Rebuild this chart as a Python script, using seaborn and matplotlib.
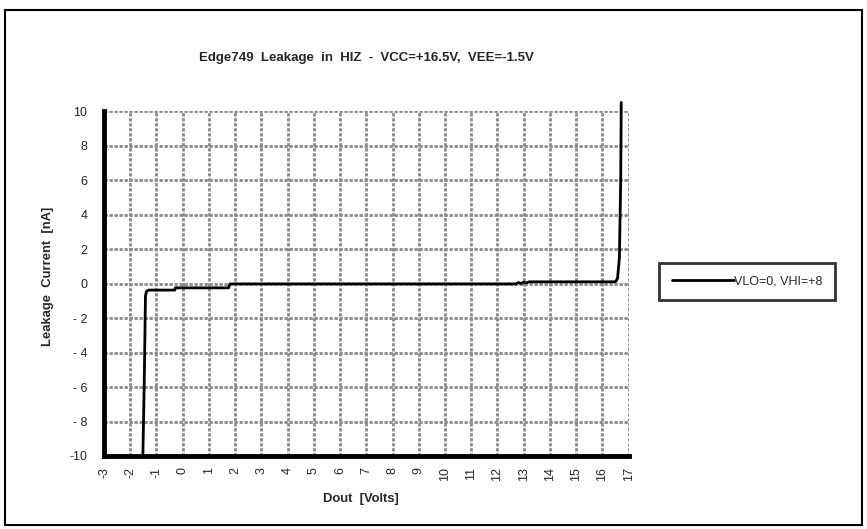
import matplotlib
matplotlib.use('Agg')
import matplotlib.pyplot as plt
import matplotlib.patches as patches
import seaborn as sns
import pandas as pd

# данные
dout = [-1.52, -1.47, -1.42, -1.38, -1.3, -0.6, -0.3, -0.28, 1.0, 1.75, 1.8, 5.0, 10.0, 12.7,
        12.8, 12.9, 13.0, 13.1, 13.2, 14.0, 15.0, 16.0, 16.5, 16.58, 16.65, 16.7, 16.72]
leak = [-10.0, -6.0, -0.7, -0.45, -0.38, -0.38, -0.38, -0.25, -0.25, -0.25, -0.02, -0.02, -0.02, -0.02,
        0.06, 0.0, 0.08, 0.03, 0.1, 0.1, 0.1, 0.1, 0.1, 0.3, 1.5, 6.0, 10.5]
series_name = 'VLO=0, VHI=+8'
x_ticks = list(range(-3, 18))
y_ticks = list(range(-10, 11, 2))
y_labels = ['-10', '- 8', '- 6', '- 4', '- 2', '0', '2', '4', '6', '8', '10']
x_labels = [str(v) for v in x_ticks]

data = pd.DataFrame({'dout': dout, 'leak': leak, 'serie': series_name})

sns.set_style('white')
plt.rcParams['font.family'] = ['Liberation Sans', 'DejaVu Sans']
plt.rcParams['axes.edgecolor'] = 'black'

fig = plt.figure(figsize=(8.67, 5.29), dpi=100)
ax = fig.add_axes([0.12, 0.138, 0.605, 0.652])

sns.lineplot(data=data, x='dout', y='leak', hue='serie', palette=['black'],
             sort=False, estimator=None, linewidth=2.0, ax=ax, clip_on=False, zorder=5)

ax.set_xlim(-3, 17)
ax.set_ylim(-10, 10)
ax.set_xticks(x_ticks)
ax.set_xticklabels(x_labels, rotation=90, fontsize=9)
ax.set_yticks(y_ticks)
ax.set_yticklabels(y_labels, fontsize=9)

# сетка пунктиром
ax.grid(True, color='#8a8a8a', linestyle=(0, (1.2, 0.6)), linewidth=2.0)
ax.set_axisbelow(True)

for s in ['top', 'right']:
    ax.spines[s].set_visible(False)
ax.spines['left'].set_linewidth(3.5)
ax.spines['bottom'].set_linewidth(3.5)
ax.spines['left'].set_zorder(6)
ax.spines['bottom'].set_zorder(6)
ax.tick_params(axis='y', direction='inout', length=10, width=3.5, color='black', pad=7)
ax.tick_params(axis='x', direction='in', length=6, width=3.5, color='black', pad=8)

ax.set_title('Edge749  Leakage  in  HIZ  -  VCC=+16.5V,  VEE=-1.5V',
             fontsize=9.5, fontweight='bold', pad=36)
ax.set_xlabel('Dout  [Volts]', fontsize=9.4, fontweight='bold')
ax.set_ylabel('Leakage  Current  [nA]', fontsize=9.4, fontweight='bold')
ax.xaxis.set_label_coords(0.49, (455 - 492) / 345)
ax.yaxis.set_label_coords((54 - 104) / 523, (455 - 275) / 345)

leg = ax.legend(loc='center left', bbox_to_anchor=(659 / 867, 1 - 281 / 529), bbox_transform=fig.transFigure,
                fontsize=9, frameon=True, fancybox=False, handlelength=5.0, handletextpad=0,
                borderpad=1.0, borderaxespad=0)
leg.get_frame().set_edgecolor('black')
leg.get_frame().set_linewidth(2)

# рамка вокруг всей картинки
fig.patches.append(patches.Rectangle((5 / 867, 4 / 529), 857 / 867, 515 / 529,
                                     transform=fig.transFigure, fill=False,
                                     edgecolor='black', linewidth=1.5))

fig.savefig('out.png', dpi=100)
